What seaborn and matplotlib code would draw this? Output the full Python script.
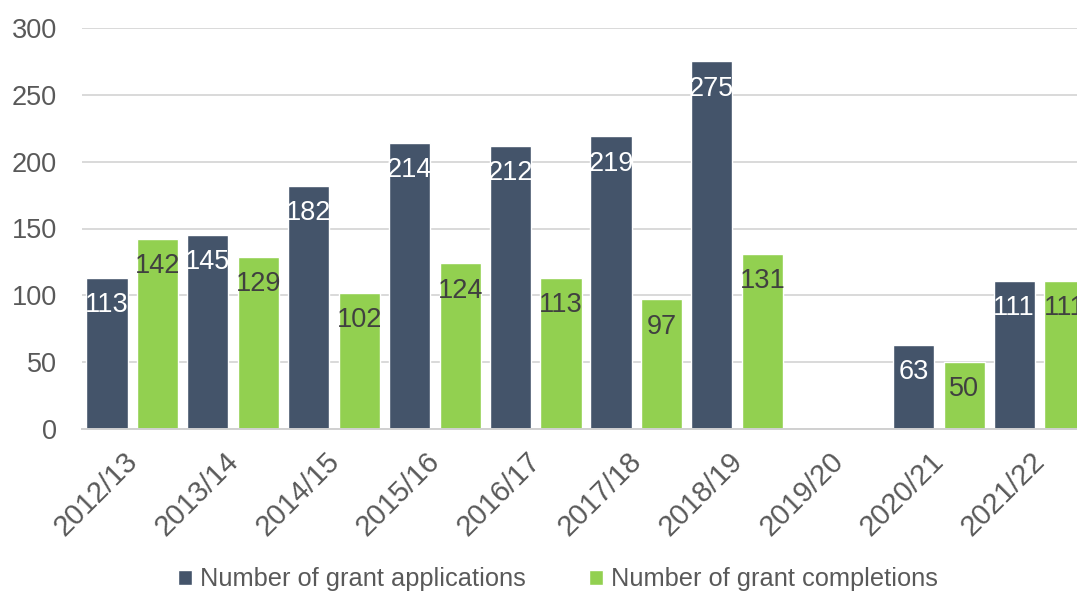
import numpy as np
import pandas as pd
import matplotlib
matplotlib.use("Agg")
import matplotlib.pyplot as plt
import matplotlib.transforms as mtransforms
import seaborn as sns

# Grant activity by financial year (no figures recorded for 2019/20)
years = ["2012/13", "2013/14", "2014/15", "2015/16", "2016/17",
         "2017/18", "2018/19", "2019/20", "2020/21", "2021/22"]
applications = [113, 145, 182, 214, 212, 219, 275, np.nan, 63, 111]
completions = [142, 129, 102, 124, 113, 97, 131, np.nan, 50, 111]
series_names = ["Number of grant applications", "Number of grant completions"]
y_ticks = [0, 50, 100, 150, 200, 250, 300]

dark = "#44546A"
green = "#92D050"
grey_text = "#595959"

df = pd.DataFrame({"Year": years,
                   series_names[0]: applications,
                   series_names[1]: completions})
long = df.melt(id_vars="Year", var_name="Series", value_name="Count")

sns.set_theme(style="white")
plt.rcParams["font.family"] = ["Liberation Sans", "DejaVu Sans"]

fig = plt.figure(figsize=(10.77, 5.93), dpi=100)
W, H = 1077, 593
left_px, right_px, top_px, bottom_px = 82, 1090, 28, 429
ax = fig.add_axes([left_px / W, 1 - bottom_px / H,
                   (right_px - left_px) / W, (bottom_px - top_px) / H])

sns.barplot(data=long, x="Year", y="Count", hue="Series",
            order=years, hue_order=series_names,
            palette=[dark, green], saturation=1,
            width=1.01, gap=0.19, errorbar=None, ax=ax)

ax.set_xlim(-0.5, len(years) - 0.5)
ax.set_ylim(0, 300)
ax.set_yticks(y_ticks)
ax.set_xlabel("")
ax.set_ylabel("")

ax.grid(axis="y", color="#d9d9d9", linewidth=1.4)
ax.grid(axis="x", visible=False)
ax.set_axisbelow(True)
for side in ["top", "right", "left"]:
    ax.spines[side].set_visible(False)
ax.spines["bottom"].set_color("#d0d0d0")
ax.spines["bottom"].set_linewidth(1.4)

ax.tick_params(axis="y", length=0, pad=18, labelsize=19.5, labelcolor=grey_text)
ax.tick_params(axis="x", length=0, pad=13, labelsize=21, labelcolor=grey_text)
shift = mtransforms.ScaledTranslation(-9 / 100, 0, fig.dpi_scale_trans)
for lbl in ax.get_xticklabels():
    lbl.set_rotation(45)
    lbl.set_ha("right")
    lbl.set_rotation_mode("anchor")
    lbl.set_transform(lbl.get_transform() + shift)

# Value labels inside the top of each bar
label_colors = ["white", "#404040"]
for container, col in zip(ax.containers, label_colors):
    labels = ["" if np.isnan(v) else f"{int(v)}" for v in container.datavalues]
    ax.bar_label(container, labels=labels, label_type="edge", padding=-29,
                 color=col, fontsize=19.5)

sns.move_legend(ax, "center", bbox_to_anchor=(0.472, -0.375), ncol=2,
                frameon=False, title=None, fontsize=18.3,
                handlelength=0.55, handleheight=0.55, handletextpad=0.3,
                columnspacing=2.5)
for t in ax.get_legend().get_texts():
    t.set_color(grey_text)

fig.savefig("out.png", dpi=100)
